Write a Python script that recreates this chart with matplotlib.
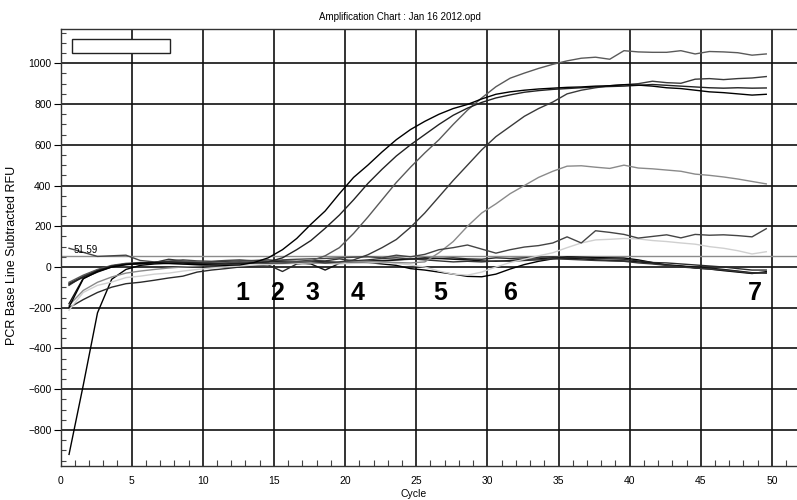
import numpy as np
import matplotlib
matplotlib.use("Agg")
import matplotlib.pyplot as plt
from matplotlib.patches import Rectangle
from matplotlib.ticker import MultipleLocator

plt.rcParams['font.family'] = ['Liberation Sans', 'DejaVu Sans']

# Cycle numbers 1..50 (plotted with the instrument's small left offset)
cycle_numbers = np.arange(1, 51)
cycle_offset = 0.4

# Baseline-subtracted RFU per well
well_1 = [-197, -58, -22, 0, 12, 18, 20, 17, 14, 12,
          10, 8, 10, 22, 45, 85, 140, 210, 275, 360,
          440, 500, 565, 625, 675, 715, 750, 778, 798, 825,
          848, 860, 868, 874, 878, 882, 884, 888, 890, 895,
          893, 888, 880, 876, 868, 860, 856, 850, 844, 848]
well_2 = [-85, -50, -18, 5, 15, 20, 22, 25, 22, 20,
          18, 15, 18, 20, 25, 45, 85, 130, 190, 255,
          330, 410, 480, 545, 600, 650, 700, 745, 780, 808,
          830, 845, 858, 866, 872, 876, 880, 884, 886, 888,
          892, 896, 892, 888, 884, 880, 878, 880, 878, 879]
well_3 = [-75, -40, -12, 8, 18, 22, 20, 24, 28, 25,
          20, 18, 22, 25, 20, 18, 22, 30, 55, 95,
          165, 245, 330, 415, 490, 560, 625, 700, 770, 830,
          885, 927, 952, 975, 995, 1012, 1025, 1030, 1020, 1062,
          1056, 1054, 1054, 1062, 1046, 1058, 1056, 1052, 1040, 1046]
well_4 = [-90, -45, -15, 5, 15, 18, 20, 28, 25, 22,
          18, 20, 25, 22, 18, 20, 25, 28, 20, 25,
          35, 60, 95, 135, 195, 265, 345, 425, 500, 575,
          640, 690, 740, 778, 810, 850, 868, 880, 890, 895,
          900, 912, 905, 902, 922, 925, 920, 925, 928, 935]
well_5 = [-188, -115, -75, -49, -30, -20, -12, -5, 0, 5,
          10, 12, 15, 18, 20, 22, 25, 20, 18, 22,
          25, 28, 25, 22, 20, 25, 70, 125, 200, 265,
          310, 360, 400, 440, 470, 495, 497, 490, 484, 500,
          486, 482, 476, 470, 456, 450, 442, 432, 420, 408]
well_6 = [92, 72, 52, 55, 58, 32, 25, 28, 35, 30,
          28, 32, 35, 30, 28, 35, 38, 40, 42, 45,
          48, 50, 45, 58, 50, 62, 85, 95, 108, 88,
          68, 85, 98, 105, 118, 148, 118, 178, 170, 160,
          142, 150, 158, 143, 160, 156, 158, 154, 148, 188]
well_7 = [-212, -125, -90, -74, -52, -45, -35, -30, -20, -12,
          -5, 0, 5, 10, 12, 15, 18, 20, 18, 15,
          18, 20, 22, 18, 10, 0, -20, -35, -40, -25,
          0, 22, 38, 55, 70, 95, 118, 133, 136, 140,
          138, 130, 125, 118, 112, 100, 92, 80, 64, 75]
well_8 = [-920, -580, -225, -60, -12, 8, 15, 18, 20, 15,
          12, 15, 20, 25, 18, 22, 25, 28, 25, 22,
          25, 22, 15, 8, -8, -15, -25, -35, -46, -48,
          -35, -10, 12, 28, 40, 50, 48, 46, 45, 44,
          35, 22, 10, 5, -5, -10, -18, -25, -32, -23]
well_9 = [-200, -160, -125, -99, -82, -75, -65, -54, -45, -25,
          -15, -8, 0, 5, 10, -22, 15, 20, 25, 20,
          28, 30, 32, 35, 38, 40, 42, 45, 40, 38,
          45, 42, 45, 48, 50, 48, 45, 42, 40, 38,
          30, 22, 20, 15, 10, 5, 0, -8, -15, -15]
well_10 = [-180, -55, -25, 0, 12, 15, 18, 20, 22, 18,
           15, 18, 20, 22, 25, 28, 20, 15, -15, 18,
           25, 30, 28, 35, 40, 45, 42, 38, 35, 30,
           28, 32, 38, 40, 45, 42, 40, 35, 32, 30,
           25, 18, 10, 5, 0, -5, -12, -20, -28, -30]
well_11 = [-80, -45, -15, 5, 15, 18, 22, 38, 30, 22,
           25, 28, 30, 32, 35, 30, 28, 32, 30, 40,
           30, 35, 42, 45, 40, 35, 30, 25, 28, 25,
           30, 28, 32, 35, 40, 38, 35, 32, 30, 28,
           20, 15, 8, 0, -5, -10, -15, -22, -30, -28]

threshold = 51.59

sample_labels = ['1', '2', '3', '4', '5', '6', '7']
sample_label_cycles = [12.8, 15.2, 17.7, 20.9, 26.7, 31.6, 48.8]
sample_label_rfu = -128

x_ticks = [0, 5, 10, 15, 20, 25, 30, 35, 40, 45, 50]
y_ticks = [-800, -600, -400, -200, 0, 200, 400, 600, 800, 1000]

fig = plt.figure(figsize=(7.97, 5.0), dpi=100)
ax = fig.add_axes([60.5 / 797, 34 / 500, 1 - 60.5 / 797, (466 - 29.3) / 500])

ax.set_xlim(0, 51.76)
ax.set_ylim(-977, 1167)

ax.set_xticks(x_ticks)
ax.set_yticks(y_ticks)
ax.xaxis.set_minor_locator(MultipleLocator(1))
ax.yaxis.set_minor_locator(MultipleLocator(50))
ax.grid(True, which='major', color='#111111', linewidth=1.2)
ax.set_axisbelow(True)

ax.tick_params(axis='x', which='major', length=0, pad=7, labelsize=7.5)
ax.tick_params(axis='x', which='minor', direction='in', length=4.3, width=0.8,
               color='#444444')
ax.tick_params(axis='y', which='major', direction='out', length=5, pad=1.5,
               labelsize=7.5)
ax.tick_params(axis='y', which='minor', direction='in', length=3.6, width=0.8,
               color='#444444')
for side in ['top', 'right']:
    ax.spines[side].set_visible(False)
ax.spines['top'].set_visible(True)
for sp in ax.spines.values():
    sp.set_linewidth(1.0)
    sp.set_color('#333333')

x = cycle_numbers - cycle_offset
wells = [
    (well_8, '#000000'),
    (well_9, '#2a2a2a'),
    (well_10, '#111111'),
    (well_11, '#333333'),
    (well_7, '#d0d0d0'),
    (well_5, '#8a8a8a'),
    (well_6, '#444444'),
    (well_4, '#3a3a3a'),
    (well_3, '#5a5a5a'),
    (well_2, '#222222'),
    (well_1, '#000000'),
]
for values, color in wells:
    ax.plot(x, values, color=color, linewidth=1.0, zorder=3)

ax.axhline(threshold, color='#8c8c8c', linewidth=1.0, zorder=2.5)
ax.text(0.95, threshold + 33, f'{threshold:.2f}', fontsize=7, va='center',
        ha='left', zorder=4)

ax.add_patch(Rectangle((0.8, 1050), 6.9, 69, facecolor='white',
                       edgecolor='#222222', linewidth=1.0, zorder=4))

for lab, cx in zip(sample_labels, sample_label_cycles):
    ax.text(cx, sample_label_rfu, lab, fontsize=18, fontweight='bold',
            ha='center', va='center', zorder=5)

fig.text(400 / 797, 1 - 17 / 500, 'Amplification Chart : Jan 16 2012.opd',
         ha='center', va='center', fontsize=7)
fig.text(414 / 797, 1 - 494 / 500, 'Cycle', ha='center', va='center',
         fontsize=7.5)
fig.text(12 / 797, 1 - 255 / 500, 'PCR Base Line Subtracted RFU', ha='center',
         va='center', rotation=90, fontsize=9)

fig.savefig('out.png', dpi=100)
